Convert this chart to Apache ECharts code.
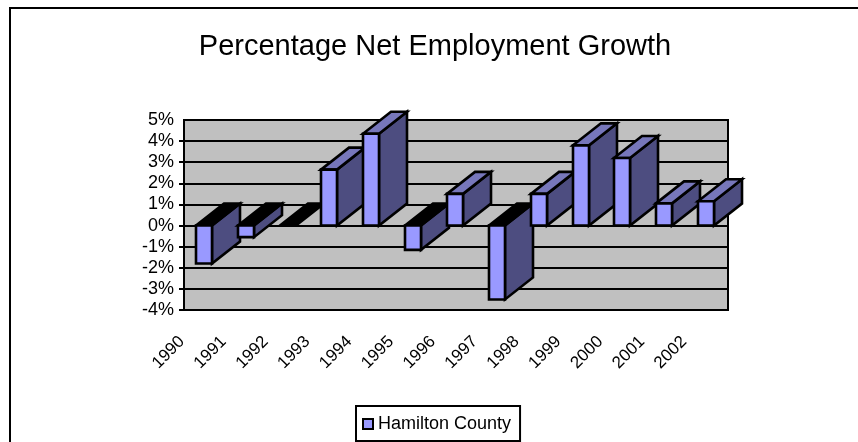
<!DOCTYPE html>
<html><head><meta charset="utf-8">
<style>html,body{margin:0;padding:0;background:#fff}#c{width:858px;height:442px}</style>
<script src="https://cdn.jsdelivr.net/npm/echarts@6/dist/echarts.min.js"></script>
</head><body><div id="c"></div>
<script>
const titleText = 'Percentage Net Employment Growth';
const seriesName = 'Hamilton County';
const years = ['1990','1991','1992','1993','1994','1995','1996','1997','1998','1999','2000','2001','2002'];
const growth = [-1.8,-0.55,0,2.65,4.35,-1.15,1.5,-3.5,1.5,3.8,3.2,1.05,1.15];
const yTicks = {min:-4,max:5,interval:1};
const yTickMarks = [-4,-3,-2,-1,0,1,2,3,4];

const DX = 28, DY = -22, BAR = 16, SHIFT = -1;
const FRONT = '#9999ff', SIDE = '#4d4d80', TOP = '#7777bb', EDGE = '#000';
const chart = echarts.init(document.getElementById('c'), null, {renderer:'canvas'});
function box(pts, fill){
  return {type:'polygon', shape:{points:pts}, style:{fill, stroke:EDGE, lineWidth:2.6, lineJoin:'miter'}};
}
function renderBar(params, api){
  const v = api.value(1);
  const p0 = api.coord([api.value(0), 0]);
  const p1 = api.coord([api.value(0), v]);
  const l = Math.round(p0[0]-BAR/2+SHIFT), r = l+BAR;
  const hi = Math.min(p0[1],p1[1]), lo = Math.max(p0[1],p1[1]);
  const parts = [];
  if (v !== 0) parts.push(box([[r,hi],[r+DX,hi+DY],[r+DX,lo+DY],[r,lo]], SIDE));
  parts.push(box([[l,hi],[l+DX,hi+DY],[r+DX,hi+DY],[r,hi]], v>0?TOP:EDGE));
  if (v !== 0) parts.push(box([[l,hi],[r,hi],[r,lo],[l,lo]], FRONT));
  return {type:'group', children:parts};
}
const labelFont = 'Liberation Sans, Arial, sans-serif';
chart.setOption({
  animation:false,
  backgroundColor:'#fff',
  title:{text:titleText,left:430,top:27,textAlign:'center',
    textStyle:{fontFamily:labelFont,fontSize:29,fontWeight:'normal',color:'#000'}},
  grid:{left:184,right:130,top:120,bottom:132,show:true,backgroundColor:'#c0c0c0',borderColor:'#000',borderWidth:2},
  legend:{left:356,top:406,orient:'horizontal',padding:[9,9,8,6],itemWidth:10,itemHeight:10,itemGap:6,
    borderColor:'#000',borderWidth:2,backgroundColor:'#fff',
    data:[{name:seriesName,icon:'rect',itemStyle:{color:FRONT,borderColor:'#000',borderWidth:2}}],
    textStyle:{fontFamily:labelFont,fontSize:18,color:'#000'}},
  xAxis:[
    {type:'category',data:years,axisLine:{show:false},axisTick:{show:false},axisLabel:{show:false},splitLine:{show:false}},
    {type:'category',position:'bottom',boundaryGap:false,data:years.concat(['']),axisLine:{show:false},axisTick:{show:false},splitLine:{show:false},
      axisLabel:{rotate:45,interval:0,margin:27,padding:[0,3,0,0],fontFamily:labelFont,fontSize:17,color:'#000',showMinLabel:true,showMaxLabel:true}}
  ],
  yAxis:{type:'value',min:yTicks.min,max:yTicks.max,interval:yTicks.interval,
    axisLine:{show:true,lineStyle:{color:'#000',width:2}},
    axisTick:{show:true,length:5,customValues:yTickMarks,lineStyle:{color:'#000',width:2}},
    axisLabel:{formatter:'{value}%',fontFamily:labelFont,fontSize:18,color:'#000',margin:10},
    splitLine:{show:true,lineStyle:{color:'#000',width:2}}},
  series:[{type:'custom',name:seriesName,coordinateSystem:'cartesian2d',xAxisIndex:0,yAxisIndex:0,clip:false,
    renderItem:renderBar,encode:{x:0,y:1},itemStyle:{color:FRONT},
    data:years.map((y,i)=>[y,growth[i]])}],
  graphic:[{type:'polyline',silent:true,z:-1,shape:{points:[[10,442],[10,8],[858,8]]},style:{stroke:'#000',lineWidth:2,fill:null}}]
});
</script></body></html>
